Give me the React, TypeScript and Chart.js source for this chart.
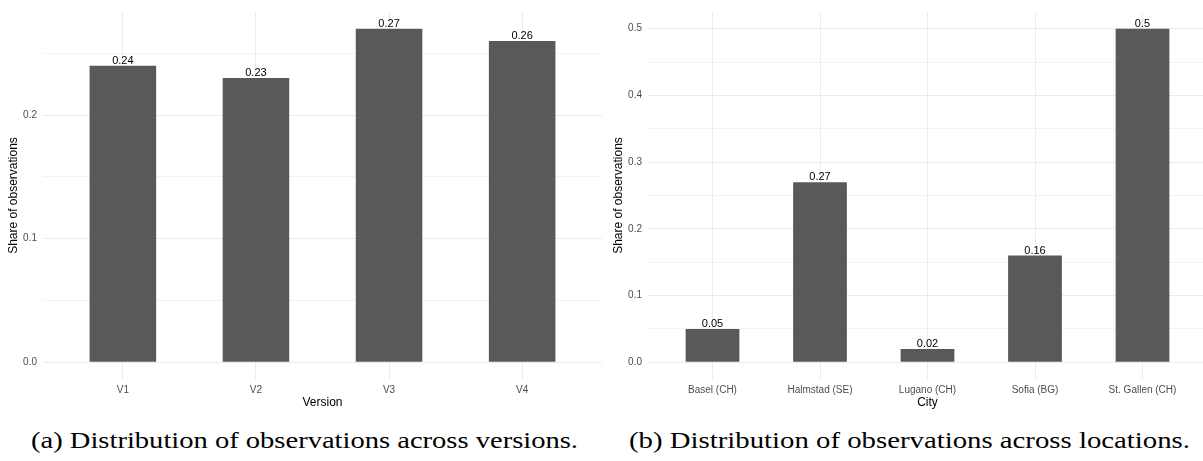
import React, { useEffect, useLayoutEffect, useRef } from "react";
import { Chart, registerables } from "chart.js";

Chart.register(...registerables);

// ---- Data ----
const versionCategories = ["V1", "V2", "V3", "V4"];
const versionShares = [0.24, 0.23, 0.27, 0.26];
const versionYTicks = [0, 0.05, 0.1, 0.15, 0.2, 0.25];

const cityCategories = ["Basel (CH)", "Halmstad (SE)", "Lugano (CH)", "Sofia (BG)", "St. Gallen (CH)"];
const cityShares = [0.05, 0.27, 0.02, 0.16, 0.5];
const cityYTicks = [0, 0.05, 0.1, 0.15, 0.2, 0.25, 0.3, 0.35, 0.4, 0.45, 0.5];

const yTitle = "Share of observations";
const versionXTitle = "Version";
const cityXTitle = "City";
const captionA = "(a) Distribution of observations across versions.";
const captionB = "(b) Distribution of observations across locations.";

const SANS = '"Liberation Sans", Arial, sans-serif';
const SERIF = '"Liberation Serif", "Times New Roman", serif';

const isMajor = (v: number) => Math.abs(v * 10 - Math.round(v * 10)) < 1e-6;

const barValuePlugin = {
  id: "barValues",
  afterDatasetsDraw(chart: any) {
    const ctx = chart.ctx;
    const meta = chart.getDatasetMeta(0);
    const ds = chart.data.datasets[0].data as any[];
    ctx.save();
    ctx.font = `11px ${SANS}`;
    ctx.fillStyle = "#000";
    ctx.textAlign = "center";
    ctx.textBaseline = "alphabetic";
    meta.data.forEach((el: any, i: number) => {
      ctx.fillText(String(ds[i].y), el.x, el.y - 2);
    });
    ctx.restore();
  },
};

function makeConfig(categories: string[], values: number[], yTicks: number[], xTitle: string): any {
  const maxV = Math.max(...values);
  return {
    type: "bar",
    data: {
      datasets: [
        {
          data: values.map((v, i) => ({ x: i + 1, y: v })),
          backgroundColor: "#595959",
          borderWidth: 0,
          categoryPercentage: 1,
          barPercentage: 0.5,
        },
      ],
    },
    options: {
      animation: false,
      responsive: false,
      maintainAspectRatio: false,
      layout: { padding: { top: 3.4, right: 3, left: 0, bottom: 0 } },
      plugins: { legend: { display: false }, tooltip: { enabled: false } },
      scales: {
        x: {
          type: "linear",
          offset: false,
          min: 0.4,
          max: categories.length + 0.6,
          afterBuildTicks: (s: any) => {
            s.ticks = categories.map((_, i) => ({ value: i + 1 }));
          },
          afterFit: (s: any) => {
            s.height = 41;
          },
          ticks: {
            autoSkip: false,
            maxRotation: 0,
            padding: 5,
            color: "#4d4d4d",
            font: { family: SANS, size: 10 },
            callback: (v: number) => categories[Math.round(v) - 1] ?? "",
          },
          grid: { color: "#ebebeb", drawTicks: false, lineWidth: 1, offset: false },
          border: { display: false },
          title: {
            display: true,
            text: xTitle,
            color: "#000",
            font: { family: SANS, size: 12 },
            padding: { top: 0, bottom: 10 },
          },
        },
        y: {
          type: "linear",
          min: -0.05 * maxV,
          max: 1.05 * maxV,
          afterBuildTicks: (s: any) => {
            s.ticks = yTicks.map((v) => ({ value: v }));
          },
          afterFit: (s: any) => {
            s.width = 43;
          },
          ticks: {
            padding: 6,
            color: "#4d4d4d",
            font: { family: SANS, size: 10 },
            callback: (v: number) => (isMajor(v) ? v.toFixed(1) : ""),
          },
          grid: {
            drawTicks: false,
            lineWidth: 1,
            offset: false,
            color: (c: any) => (c.tick && isMajor(c.tick.value) ? "#ebebeb" : "#f3f3f3"),
          },
          border: { display: false },
          title: {
            display: true,
            text: yTitle,
            color: "#000",
            font: { family: SANS, size: 12 },
            padding: { top: 6.8, bottom: 0 },
          },
        },
      },
    },
    plugins: [barValuePlugin],
  };
}

function BarPanel(props: { left: number; categories: string[]; values: number[]; yTicks: number[]; xTitle: string }) {
  const ref = useRef<HTMLCanvasElement | null>(null);
  useEffect(() => {
    if (!ref.current) return;
    const chart = new Chart(ref.current, makeConfig(props.categories, props.values, props.yTicks, props.xTitle));
    return () => chart.destroy();
  }, []);
  return (
    <canvas
      ref={ref}
      width={605}
      height={420}
      style={{ position: "absolute", left: props.left, top: 0, width: 605, height: 420 }}
    />
  );
}

function Caption(props: { text: string; center: number; width: number }) {
  const ref = useRef<HTMLSpanElement | null>(null);
  useLayoutEffect(() => {
    const el = ref.current;
    if (!el) return;
    el.style.transform = "none";
    const w = el.getBoundingClientRect().width;
    const s = props.width / w;
    el.style.transform = `scaleX(${s})`;
  }, []);
  return (
    <span
      ref={ref}
      style={{
        position: "absolute",
        left: props.center - props.width / 2,
        top: 429,
        fontFamily: SERIF,
        fontSize: 23,
        lineHeight: "23px",
        whiteSpace: "nowrap",
        color: "#000",
        transformOrigin: "0 50%",
      }}
    >
      {props.text}
    </span>
  );
}

export default function App() {
  return (
    <div
      style={{
        position: "fixed",
        left: 0,
        top: 0,
        width: 1203,
        height: 461,
        overflow: "hidden",
        background: "#fff",
      }}
    >
      <BarPanel left={0} categories={versionCategories} values={versionShares} yTicks={versionYTicks} xTitle={versionXTitle} />
      <BarPanel left={605} categories={cityCategories} values={cityShares} yTicks={cityYTicks} xTitle={cityXTitle} />
      <Caption text={captionA} center={304.5} width={547} />
      <Caption text={captionB} center={909.5} width={561} />
    </div>
  );
}
